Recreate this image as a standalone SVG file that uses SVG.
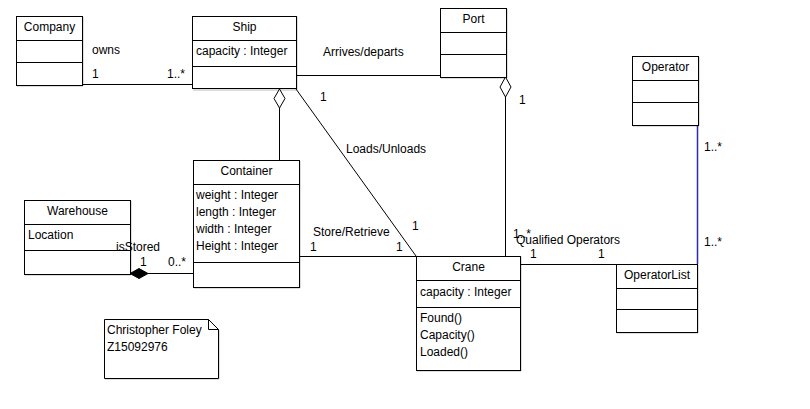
<svg xmlns="http://www.w3.org/2000/svg" width="810" height="409" viewBox="0 0 810 409">
<style>
.box{fill:#fff;stroke:#000;stroke-width:1}
.sh{fill:none;stroke:#bbb;stroke-width:1}
.ln{fill:none;stroke:#000;stroke-width:1}
.blue{fill:none;stroke:#2a2ab4;stroke-width:1.5}
text{font-family:"Liberation Sans",Arial,sans-serif;font-size:12px;fill:#000}
.c{text-anchor:middle}
</style>
<rect width="810" height="409" fill="#fff"/>
<g id="company">
<polyline class="sh" points="83,17 83,86 17,86"/>
<rect class="box" x="16.5" y="16.5" width="66" height="69"/>
<line class="ln" x1="16.5" y1="40.5" x2="82.5" y2="40.5"/>
<line class="ln" x1="16.5" y1="62.5" x2="82.5" y2="62.5"/>
<text x="49.5" y="31" class="c">Company</text>
</g>
<g id="ship">
<polyline class="sh" points="297,17 297,90 193,90"/>
<rect class="box" x="192.5" y="16.5" width="104" height="72"/>
<line class="ln" x1="192.5" y1="40.5" x2="296.5" y2="40.5"/>
<line class="ln" x1="192.5" y1="66.5" x2="296.5" y2="66.5"/>
<text x="244.5" y="31" class="c">Ship</text>
<text x="196" y="55">capacity : Integer</text>
</g>
<g id="port">
<polyline class="sh" points="507,9 507,78 441,78"/>
<rect class="box" x="440.5" y="8.5" width="66" height="69"/>
<line class="ln" x1="440.5" y1="32.5" x2="506.5" y2="32.5"/>
<line class="ln" x1="440.5" y1="54.5" x2="506.5" y2="54.5"/>
<text x="473.5" y="23" class="c">Port</text>
</g>
<g id="operator">
<polyline class="sh" points="699,57 699,126 633,126"/>
<rect class="box" x="632.5" y="56.5" width="66" height="69"/>
<line class="ln" x1="632.5" y1="80.5" x2="698.5" y2="80.5"/>
<line class="ln" x1="632.5" y1="102.5" x2="698.5" y2="102.5"/>
<text x="665.5" y="71" class="c">Operator</text>
</g>
<g id="container">
<polyline class="sh" points="300,161 300,288 194,288"/>
<rect class="box" x="193.5" y="160.5" width="106" height="127"/>
<line class="ln" x1="193.5" y1="184.5" x2="299.5" y2="184.5"/>
<line class="ln" x1="193.5" y1="262.5" x2="299.5" y2="262.5"/>
<text x="246.5" y="175" class="c">Container</text>
<text x="196" y="199">weight : Integer</text>
<text x="196" y="216">length : Integer</text>
<text x="196" y="233">width : Integer</text>
<text x="196" y="250">Height : Integer</text>
</g>
<g id="warehouse">
<polyline class="sh" points="131,201 131,275 25,275"/>
<rect class="box" x="24.5" y="200.5" width="106" height="74"/>
<line class="ln" x1="24.5" y1="224.5" x2="130.5" y2="224.5"/>
<line class="ln" x1="24.5" y1="250.5" x2="130.5" y2="250.5"/>
<text x="77.5" y="215" class="c">Warehouse</text>
<text x="28" y="239">Location</text>
</g>
<g id="crane">
<polyline class="sh" points="521,257 521,371 417,371"/>
<rect class="box" x="416.5" y="256.5" width="104" height="114"/>
<line class="ln" x1="416.5" y1="280.5" x2="520.5" y2="280.5"/>
<line class="ln" x1="416.5" y1="307.5" x2="520.5" y2="307.5"/>
<text x="468.5" y="271" class="c">Crane</text>
<text x="420" y="296">capacity : Integer</text>
<text x="420" y="322">Found()</text>
<text x="420" y="339">Capacity()</text>
<text x="420" y="356">Loaded()</text>
</g>
<g id="operatorlist">
<polyline class="sh" points="698,265 698,333 617,333"/>
<rect class="box" x="616.5" y="264.5" width="81" height="68"/>
<line class="ln" x1="616.5" y1="288.5" x2="697.5" y2="288.5"/>
<line class="ln" x1="616.5" y1="309.5" x2="697.5" y2="309.5"/>
<text x="657" y="279" class="c">OperatorList</text>
</g>
<g id="note">
<polyline class="sh" points="219,330 219,379 105,379"/>
<path class="box" d="M104.5,319.5 H208.5 L218.5,329.5 V378.5 H104.5 Z"/>
<polyline class="ln" points="208.5,319.5 208.5,329.5 218.5,329.5"/>
<text x="107" y="334">Christopher Foley</text>
<text x="107" y="351">Z15092976</text>
</g>
<g id="connectors">
<line class="ln" x1="82" y1="84.5" x2="192" y2="84.5"/>
<line class="ln" x1="296" y1="75.5" x2="440" y2="75.5"/>
<line class="ln" x1="296" y1="89" x2="416" y2="256"/>
<line class="ln" x1="279.5" y1="108" x2="279.5" y2="160"/>
<path class="box" d="M279.5,89 L285,98.5 L279.5,108 L274,98.5 Z"/>
<line class="ln" x1="505.5" y1="97" x2="505.5" y2="256"/>
<path class="box" d="M505.5,77 L511,87 L505.5,97 L500,87 Z"/>
<line class="ln" x1="299" y1="256.5" x2="416" y2="256.5"/>
<line class="ln" x1="148" y1="273.5" x2="193" y2="273.5"/>
<path d="M130,273.5 L139,268.5 L148,273.5 L139,278.5 Z" fill="#000" stroke="#000"/>
<line class="ln" x1="520" y1="264.5" x2="616" y2="264.5"/>
<line class="blue" x1="697.5" y1="126" x2="697.5" y2="264"/>
<text x="92" y="54">owns</text>
<text x="92" y="78">1</text>
<text x="167" y="78">1..*</text>
<text x="323" y="56">Arrives/departs</text>
<text x="320" y="101">1</text>
<text x="346" y="153">Loads/Unloads</text>
<text x="412" y="230">1</text>
<text x="519" y="104">1</text>
<text x="313" y="236">Store/Retrieve</text>
<text x="310" y="251">1</text>
<text x="396" y="251">1</text>
<text x="116" y="251">isStored</text>
<text x="140" y="266">1</text>
<text x="168" y="266">0..*</text>
<text x="513" y="238">1..*</text>
<text x="516" y="244">Qualified Operators</text>
<text x="530" y="258">1</text>
<text x="598" y="258">1</text>
<text x="704" y="151">1..*</text>
<text x="704" y="246">1..*</text>
</g>
</svg>
